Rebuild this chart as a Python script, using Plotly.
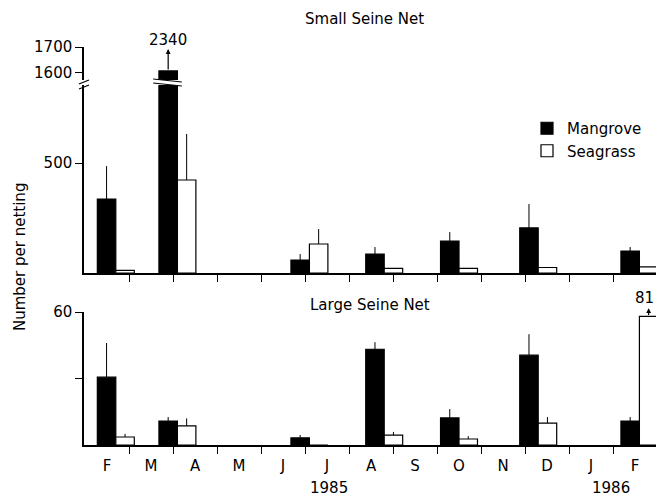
import plotly.graph_objects as go

# ---------------- data ----------------
months = ["F", "M", "A", "M", "J", "J", "A", "S", "O", "N", "D", "J", "F"]
month_pos = list(range(13))
sample_pos = [0.2, 1.6, 4.6, 6.3, 8.0, 9.8, 12.1]

small_mangrove = [336, 1608, 59, 86, 145, 205, 100]
small_mangrove_err = [486, 2340, 86, 118, 186, 314, 118]
small_seagrass = [12, 423, 132, 21, 21, 25, 28]
small_seagrass_err = [12, 632, 200, 21, 21, 25, 28]

large_mangrove = [30.6, 10.8, 3.2, 43.2, 12.2, 40.5, 10.8]
large_mangrove_err = [46, 12.6, 4.5, 46.4, 16.2, 50, 12.6]
large_seagrass = [3.6, 8.6, 0, 4.5, 2.7, 9.9, 58]
large_seagrass_err = [5, 12, 0, 5.9, 4, 12.6, 81]

years = ["1985", "1986"]
year_pos = [5.05, 11.45]

# ---------------- layout helpers ----------------
W, H = 656, 498
L = 84
FONT = "DejaVu Sans"
BW = 0.42


def py(y):
    return 1 - y / H


def px(x):
    return (x - L) / (W - L)


XR = [-0.523, 12.477]
Y2MAX = 855          # lower segment of top panel
Y3R = [1573, 1700]   # upper segment of top panel
Y1R = [0, 60]


def errs(vals, tops, limit):
    return [(t - v) if t <= limit else 0 for v, t in zip(vals, tops)]


def bars(vals, tops, name, fill, offset, xa, ya, limit, show):
    return go.Bar(
        x=sample_pos, y=vals, name=name, width=BW, offset=offset,
        marker=dict(color=fill, line=dict(color="black", width=1.2)),
        error_y=dict(type="data", symmetric=False,
                     array=errs(vals, tops, limit),
                     arrayminus=[0] * len(vals),
                     color="black", thickness=1, width=0),
        xaxis=xa, yaxis=ya, showlegend=show,
    )


fig = go.Figure()
fig.add_trace(bars(large_mangrove, large_mangrove_err, "Mangrove", "black", -BW, "x", "y", Y1R[1], True))
fig.add_trace(bars(large_seagrass, large_seagrass_err, "Seagrass", "white", 0, "x", "y", Y1R[1], True))
fig.add_trace(bars(small_mangrove, small_mangrove_err, "Mangrove", "black", -BW, "x2", "y2", Y2MAX, False))
fig.add_trace(bars(small_seagrass, small_seagrass_err, "Seagrass", "white", 0, "x2", "y2", Y2MAX, False))
fig.add_trace(bars(small_mangrove, small_mangrove, "Mangrove", "black", -BW, "x2", "y3", Y3R[1], False))

axis_common = dict(showline=True, linecolor="black", linewidth=1.5,
                   showgrid=False, zeroline=False, automargin=False,
                   tickfont=dict(family=FONT, size=15, color="black"))
minor_ticks = dict(tickmode="array", tickvals=[m + 0.5 for m in month_pos[:-1]],
                   ticks="outside", ticklen=7, tickcolor="black", tickwidth=1.2)
ytick = dict(ticks="outside", ticklen=7, tickcolor="black", tickwidth=1.2)

fig.update_layout(
    width=W, height=H,
    margin=dict(l=L, r=0, t=0, b=0, autoexpand=False),
    paper_bgcolor="white", plot_bgcolor="white",
    barmode="overlay",
    font=dict(family=FONT, size=15, color="black"),
    xaxis=dict(domain=[0, 1], range=XR, anchor="y",
               tickmode="array", tickvals=month_pos, ticktext=months,
               ticks="", ticklabelstandoff=6, minor=minor_ticks,
               **axis_common),
    xaxis2=dict(domain=[0, 1], range=XR, anchor="y2", matches="x",
                tickmode="array", tickvals=month_pos, showticklabels=False,
                ticks="", minor=minor_ticks,
                **axis_common),
    yaxis=dict(domain=[py(445), py(312)], range=Y1R, anchor="x",
               tickmode="array", tickvals=[30, 60], ticktext=["", "60"],
               **ytick, **axis_common),
    yaxis2=dict(domain=[py(273), py(85)], range=[0, Y2MAX], anchor="x2",
                tickmode="array", tickvals=[500], ticktext=["500"],
                **ytick, **axis_common),
    yaxis3=dict(domain=[py(80), py(47)], range=Y3R, anchor="x2",
                tickmode="array", tickvals=[1600, 1700], ticktext=["1600", "1700"],
                **ytick, **axis_common),
    legend=dict(x=px(527), y=py(112), xanchor="left", yanchor="top",
                bgcolor="rgba(0,0,0,0)", font=dict(family=FONT, size=15, color="black"),
                itemclick=False, tracegroupgap=0),
)

C = dict(xanchor="center", yanchor="middle", showarrow=False)
ann = []
ann.append(dict(text="Small Seine Net", x=px(364), y=py(19), xref="paper", yref="paper",
                font=dict(size=15), **C))
ann.append(dict(text="Large Seine Net", x=px(370), y=py(305), xref="paper", yref="paper",
                font=dict(size=15), **C))
ann.append(dict(text="Number per netting", x=px(20), y=py(257), xref="paper", yref="paper",
                textangle=-90, font=dict(size=15), **C))
for yr, xp in zip(years, year_pos):
    ann.append(dict(text=yr, x=xp, y=py(488), xref="x", yref="paper",
                    font=dict(size=15), **C))

i_top = small_mangrove_err.index(max(small_mangrove_err))
xm = sample_pos[i_top] - BW / 2
ann.append(dict(x=xm, y=1692, ax=xm, ay=small_mangrove[i_top], xref="x2", yref="y3",
                axref="x2", ayref="y3", text="", showarrow=True, arrowhead=2,
                arrowsize=0.8, arrowwidth=1.2, arrowcolor="black"))
ann.append(dict(text=str(small_mangrove_err[i_top]), x=xm, y=py(40), xref="x2", yref="paper",
                font=dict(size=15), **C))

i_bot = large_seagrass_err.index(max(large_seagrass_err))
xs = sample_pos[i_bot] + BW / 2
ann.append(dict(x=xs, y=61.7, ax=xs, ay=large_seagrass[i_bot], xref="x", yref="y",
                axref="x", ayref="y", text="", showarrow=True, arrowhead=2,
                arrowsize=0.8, arrowwidth=1.2, arrowcolor="black"))
ann.append(dict(text=str(large_seagrass_err[i_bot]), x=xs - 0.1, y=py(298), xref="x", yref="paper",
                font=dict(size=15), **C))
fig.update_layout(annotations=ann)

shapes = []
for y0, y1 in [(84, 80), (89, 85)]:
    shapes.append(dict(type="line", xref="paper", yref="paper",
                       x0=px(79), x1=px(89), y0=py(y0), y1=py(y1),
                       line=dict(color="black", width=1.3)))
xb0, xb1 = sample_pos[i_top] - 0.55, sample_pos[i_top] + 0.1
shapes.append(dict(type="path", xref="x2", yref="paper",
                   path=f"M {xb0},{py(79)} L {xb1},{py(82)} L {xb1},{py(86)} L {xb0},{py(83)} Z",
                   fillcolor="white", line=dict(width=0), layer="above"))
shapes.append(dict(type="line", xref="x2", yref="paper", x0=xb0, x1=xb1, y0=py(79), y1=py(82),
                   line=dict(color="black", width=1.2), layer="above"))
shapes.append(dict(type="line", xref="x2", yref="paper", x0=xb0, x1=xb1, y0=py(83), y1=py(86),
                   line=dict(color="black", width=1.2), layer="above"))
fig.update_layout(shapes=shapes)

fig.write_html("out.html", config={"responsive": False, "displayModeBar": False},
               post_script="document.body.style.margin='0';document.body.style.overflow='hidden';")
